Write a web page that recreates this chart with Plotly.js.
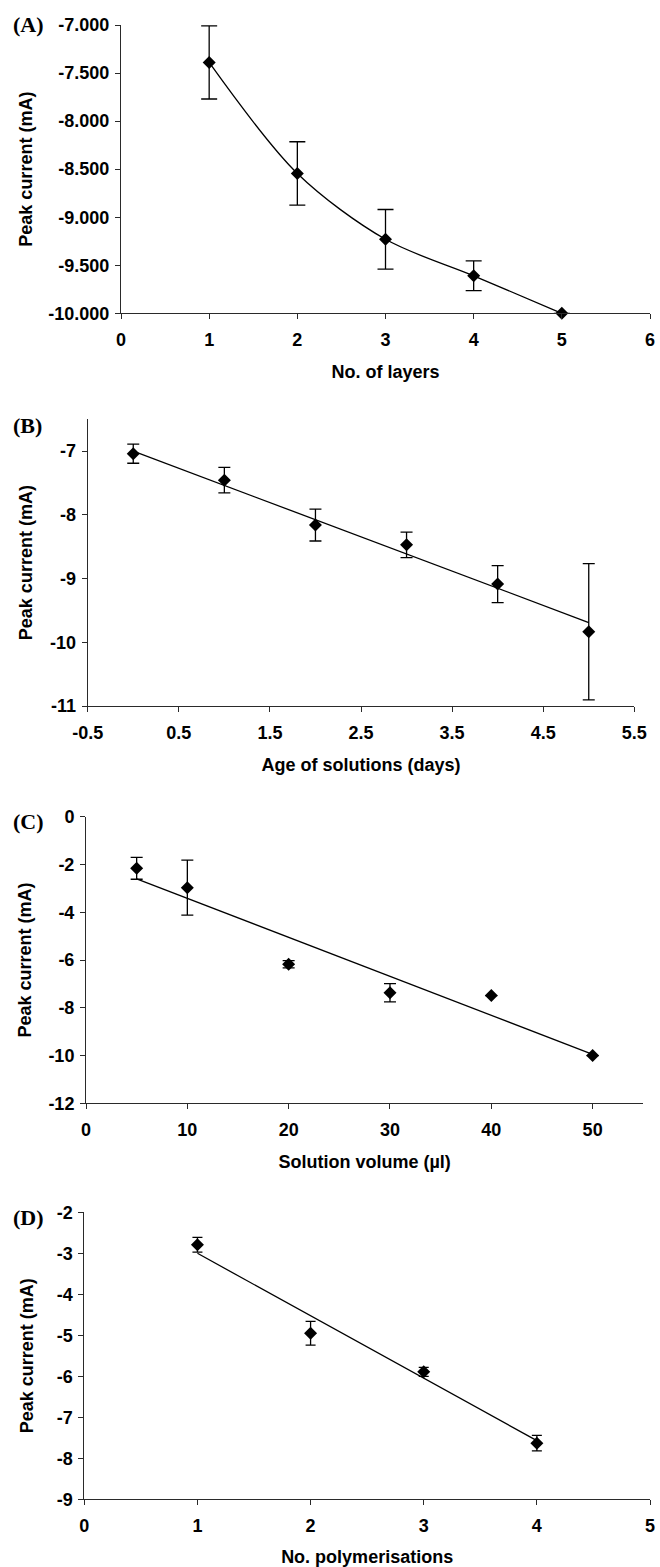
<!DOCTYPE html>
<html>
<head>
<meta charset="utf-8">
<script src="https://cdn.plot.ly/plotly-3.0.1.min.js"></script>
<style>html,body{margin:0;padding:0;background:#fff;}#chart{width:660px;height:1567px;}</style>
</head>
<body>
<div id="chart"></div>
<script>
// ---- Panel A: No. of layers ----
const layersA = [1, 2, 3, 4, 5];
const currentA = [-7.39, -8.545, -9.23, -9.61, -10.0];
const errA = [0.38, 0.33, 0.31, 0.155, null];
const xTicksA = [0, 1, 2, 3, 4, 5, 6];
const xTickTextA = ['0', '1', '2', '3', '4', '5', '6'];
const yTicksA = [-7, -7.5, -8, -8.5, -9, -9.5, -10];
const yTickTextA = ['-7.000', '-7.500', '-8.000', '-8.500', '-9.000', '-9.500', '-10.000'];

// ---- Panel B: Age of solutions ----
const ageB = [0, 1, 2, 3, 4, 5];
const currentB = [-7.04, -7.455, -8.16, -8.47, -9.086, -9.835];
const errB = [0.15, 0.2, 0.25, 0.2, 0.29, 1.07];
const trendXB = [0, 5];
const trendYB = [-7.0, -9.69];
const xTicksB = [-0.5, 0.5, 1.5, 2.5, 3.5, 4.5, 5.5];
const xTickTextB = ['-0.5', '0.5', '1.5', '2.5', '3.5', '4.5', '5.5'];
const yTicksB = [-7, -8, -9, -10, -11];
const yTickTextB = ['-7', '-8', '-9', '-10', '-11'];

// ---- Panel C: Solution volume ----
const volumeC = [5, 10, 20, 30, 40, 50];
const currentC = [-2.16, -2.97, -6.18, -7.37, -7.49, -10.0];
const errC = [0.46, 1.15, 0.15, 0.38, null, null];
const trendXC = [5, 50];
const trendYC = [-2.6, -9.95];
const xTicksC = [0, 10, 20, 30, 40, 50];
const xTickTextC = ['0', '10', '20', '30', '40', '50'];
const yTicksC = [0, -2, -4, -6, -8, -10, -12];
const yTickTextC = ['0', '-2', '-4', '-6', '-8', '-10', '-12'];

// ---- Panel D: No. polymerisations ----
const polyD = [1, 2, 3, 4];
const currentD = [-2.79, -4.95, -5.89, -7.63];
const errD = [0.18, 0.29, 0.11, 0.19];
const trendXD = [1, 4];
const trendYD = [-3.0, -7.57];
const xTicksD = [0, 1, 2, 3, 4, 5];
const xTickTextD = ['0', '1', '2', '3', '4', '5'];
const yTicksD = [-2, -3, -4, -5, -6, -7, -8, -9];
const yTickTextD = ['-2', '-3', '-4', '-5', '-6', '-7', '-8', '-9'];

const panelLabels = ['(A)', '(B)', '(C)', '(D)'];
const xTitles = ['No. of layers', 'Age of solutions (days)', 'Solution volume (\u00b5l)', 'No. polymerisations'];
const yTitle = 'Peak current (mA)';

const W = 660, H = 1567;
const SANS = 'Arial, "Liberation Sans", Helvetica, sans-serif';
const SERIF = '"Times New Roman", "Liberation Serif", Times, serif';
const AXC = '#2a2a2a';

function px2x(p) { return p / W; }
function px2y(p) { return 1 - p / H; }

function markerTrace(x, y, err, xa, ya, capw, mode, shape) {
  return {
    x: x, y: y, xaxis: xa, yaxis: ya, type: 'scatter', mode: mode,
    line: {color: '#000', width: 1.3, shape: shape || 'linear', smoothing: 0.9},
    marker: {symbol: 'diamond', size: 10, color: '#000'},
    error_y: {type: 'data', array: err, visible: true, color: '#000', thickness: 1.3, width: capw},
    cliponaxis: false, showlegend: false, hoverinfo: 'x+y'
  };
}
function trendTrace(x, y, xa, ya) {
  return {x: x, y: y, xaxis: xa, yaxis: ya, type: 'scatter', mode: 'lines',
    line: {color: '#000', width: 1.3}, cliponaxis: false, showlegend: false, hoverinfo: 'skip'};
}

const data = [
  markerTrace(layersA, currentA, errA, 'x', 'y', 8, 'lines+markers', 'spline'),
  trendTrace(trendXB, trendYB, 'x2', 'y2'),
  markerTrace(ageB, currentB, errB, 'x2', 'y2', 6, 'markers'),
  trendTrace(trendXC, trendYC, 'x3', 'y3'),
  markerTrace(volumeC, currentC, errC, 'x3', 'y3', 6, 'markers'),
  trendTrace(trendXD, trendYD, 'x4', 'y4'),
  markerTrace(polyD, currentD, errD, 'x4', 'y4', 5, 'markers')
];

function xAxis(domPx, range, tv, tt, anchor, title, standoff) {
  return {
    domain: [px2x(domPx[0]), px2x(domPx[1])], range: range, anchor: anchor,
    showgrid: false, zeroline: false, showline: true, linecolor: AXC, linewidth: 1,
    ticks: 'outside', ticklen: 5, tickwidth: 1, tickcolor: AXC,
    tickmode: 'array', tickvals: tv, ticktext: tt, ticklabelstandoff: 5,
    ticklabeloverflow: 'allow',
    tickfont: {family: SANS, size: 18, color: '#000', weight: 'bold'},
    title: {text: title, standoff: standoff, font: {family: SANS, size: 18, color: '#000', weight: 'bold'}},
    automargin: false, fixedrange: true
  };
}
function yAxis(domPx, range, tv, tt, anchor, standoff) {
  return {
    domain: [px2y(domPx[1]), px2y(domPx[0])], range: range, anchor: anchor,
    showgrid: false, zeroline: false, showline: true, linecolor: AXC, linewidth: 1,
    ticks: 'outside', ticklen: 5, tickwidth: 1, tickcolor: AXC,
    tickmode: 'array', tickvals: tv, ticktext: tt, ticklabelstandoff: 2,
    ticklabeloverflow: 'allow',
    tickfont: {family: SANS, size: 18, color: '#000', weight: 'bold'},
    title: {text: yTitle, standoff: standoff, font: {family: SANS, size: 18, color: '#000', weight: 'bold'}},
    automargin: false, fixedrange: true
  };
}

const labelY = [25, 425, 821, 1217];
const annotations = panelLabels.map((t, i) => ({
  text: t, xref: 'paper', yref: 'paper', x: px2x(11), y: px2y(labelY[i]),
  xanchor: 'left', yanchor: 'middle', showarrow: false,
  font: {family: SERIF, size: 22, color: '#000', weight: 'bold'}
}));

const layout = {
  width: W, height: H, margin: {l: 0, r: 0, t: 0, b: 0},
  paper_bgcolor: '#fff', plot_bgcolor: '#fff', showlegend: false,
  xaxis:  xAxis([121, 650], [0, 6], xTicksA, xTickTextA, 'y', xTitles[0], 16),
  yaxis:  yAxis([25, 313.3], [-10, -7], yTicksA, yTickTextA, 'x', 11),
  xaxis2: xAxis([87.7, 634.3], [-0.5, 5.5], xTicksB, xTickTextB, 'y2', xTitles[1], 16),
  yaxis2: yAxis([419.3, 706], [-11, -6.5], yTicksB, yTickTextB, 'x2', 12),
  xaxis3: xAxis([86, 643.3], [0, 55], xTicksC, xTickTextC, 'y3', xTitles[2], 16),
  yaxis3: yAxis([816.7, 1103.3], [-12, 0], yTicksC, yTickTextC, 'x3', 12),
  xaxis4: xAxis([84.3, 650], [0, 5], xTicksD, xTickTextD, 'y4', xTitles[3], 16),
  yaxis4: yAxis([1212.3, 1499.3], [-9, -2], yTicksD, yTickTextD, 'x4', 18),
  annotations: annotations
};

Plotly.newPlot('chart', data, layout, {staticPlot: true, displayModeBar: false});
</script>
</body>
</html>
